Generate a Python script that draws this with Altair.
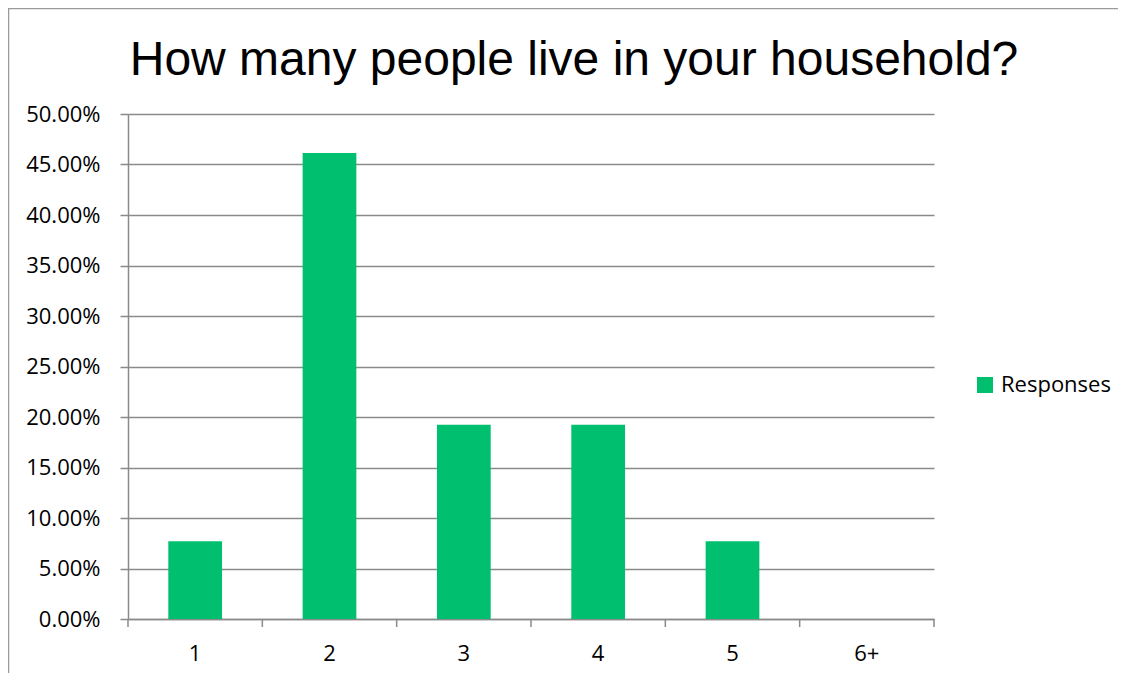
import altair as alt
import pandas as pd

title_text = "How many people live in your household?"
categories = ["1", "2", "3", "4", "5", "6+"]
values = [0.0769, 0.4615, 0.1923, 0.1923, 0.0769, 0.0]
series = ["Responses"] * len(categories)
y_ticks = [0.0, 0.05, 0.10, 0.15, 0.20, 0.25, 0.30, 0.35, 0.40, 0.45, 0.50]
x_tick_bounds = [0, 1, 2, 3, 4, 5, 6]

df = pd.DataFrame({"people": categories, "share": values, "series": series})

LABEL_FONT = "Open Sans"
GRAY = "#8a8a8a"

bars = alt.Chart(df).mark_bar(color="#00BF6F").encode(
    x=alt.X(
        "people:N",
        sort=categories,
        title=None,
        scale=alt.Scale(paddingInner=0.6, paddingOuter=0.3),
        axis=alt.Axis(
            labelAngle=0,
            labelFont=LABEL_FONT,
            labelFontSize=22,
            labelColor="black",
            labelPadding=24,
            ticks=False,
            domainColor=GRAY,
            domainWidth=1.5,
            grid=False,
        ),
    ),
    y=alt.Y(
        "share:Q",
        title=None,
        scale=alt.Scale(domain=[0, 0.5], nice=False),
        axis=alt.Axis(
            values=y_ticks,
            format=".2%",
            labelFont=LABEL_FONT,
            labelFontSize=22,
            labelColor="black",
            labelPadding=20,
            tickSize=8,
            tickColor=GRAY,
            tickWidth=1.5,
            domainColor=GRAY,
            domainWidth=1.5,
            grid=True,
            gridColor=GRAY,
            gridWidth=1.5,
        ),
    ),
    color=alt.Color(
        "series:N",
        scale=alt.Scale(range=["#00BF6F"]),
        legend=alt.Legend(
            title=None,
            orient="none",
            legendX=846,
            legendY=260,
            symbolType="square",
            symbolSize=256,
            symbolStrokeWidth=0,
            symbolOpacity=1,
            labelFont=LABEL_FONT,
            labelFontSize=22,
            labelColor="black",
            labelOffset=5,
            padding=0,
        ),
    ),
)

ticks_df = pd.DataFrame({"b": x_tick_bounds})
x_ticks = alt.Chart(ticks_df).mark_rule(color=GRAY, strokeWidth=1.5).encode(
    x=alt.X("b:Q", scale=alt.Scale(domain=[0, 6], nice=False, zero=False), axis=None),
    y=alt.value(505),
    y2=alt.value(513),
)

frame = pd.DataFrame({"t": [title_text]})
title = alt.Chart(frame).mark_text(
    font="Liberation Sans", fontSize=48, color="black", align="center", baseline="alphabetic"
).encode(x=alt.value(446), y=alt.value(-39), text="t:N")

left_border = alt.Chart(frame).mark_rule(color="#9a9a9a", strokeWidth=1.5).encode(
    x=alt.value(-119.5), y=alt.value(-106), y2=alt.value(560)
)
top_border = alt.Chart(frame).mark_rule(color="#9a9a9a", strokeWidth=1.5).encode(
    y=alt.value(-105.5), x=alt.value(-120), x2=alt.value(990)
)

chart = (
    alt.layer(bars, x_ticks, title, left_border, top_border)
    .resolve_scale(x="independent")
    .properties(
        width=806,
        height=505,
        autosize=alt.AutoSizeParams(type="none"),
        padding={"left": 120, "top": 106, "right": 184, "bottom": 54},
    )
    .configure(background="white")
    .configure_view(stroke=None)
)

chart.save("out.html", embed_options={"renderer": "svg", "actions": False})
